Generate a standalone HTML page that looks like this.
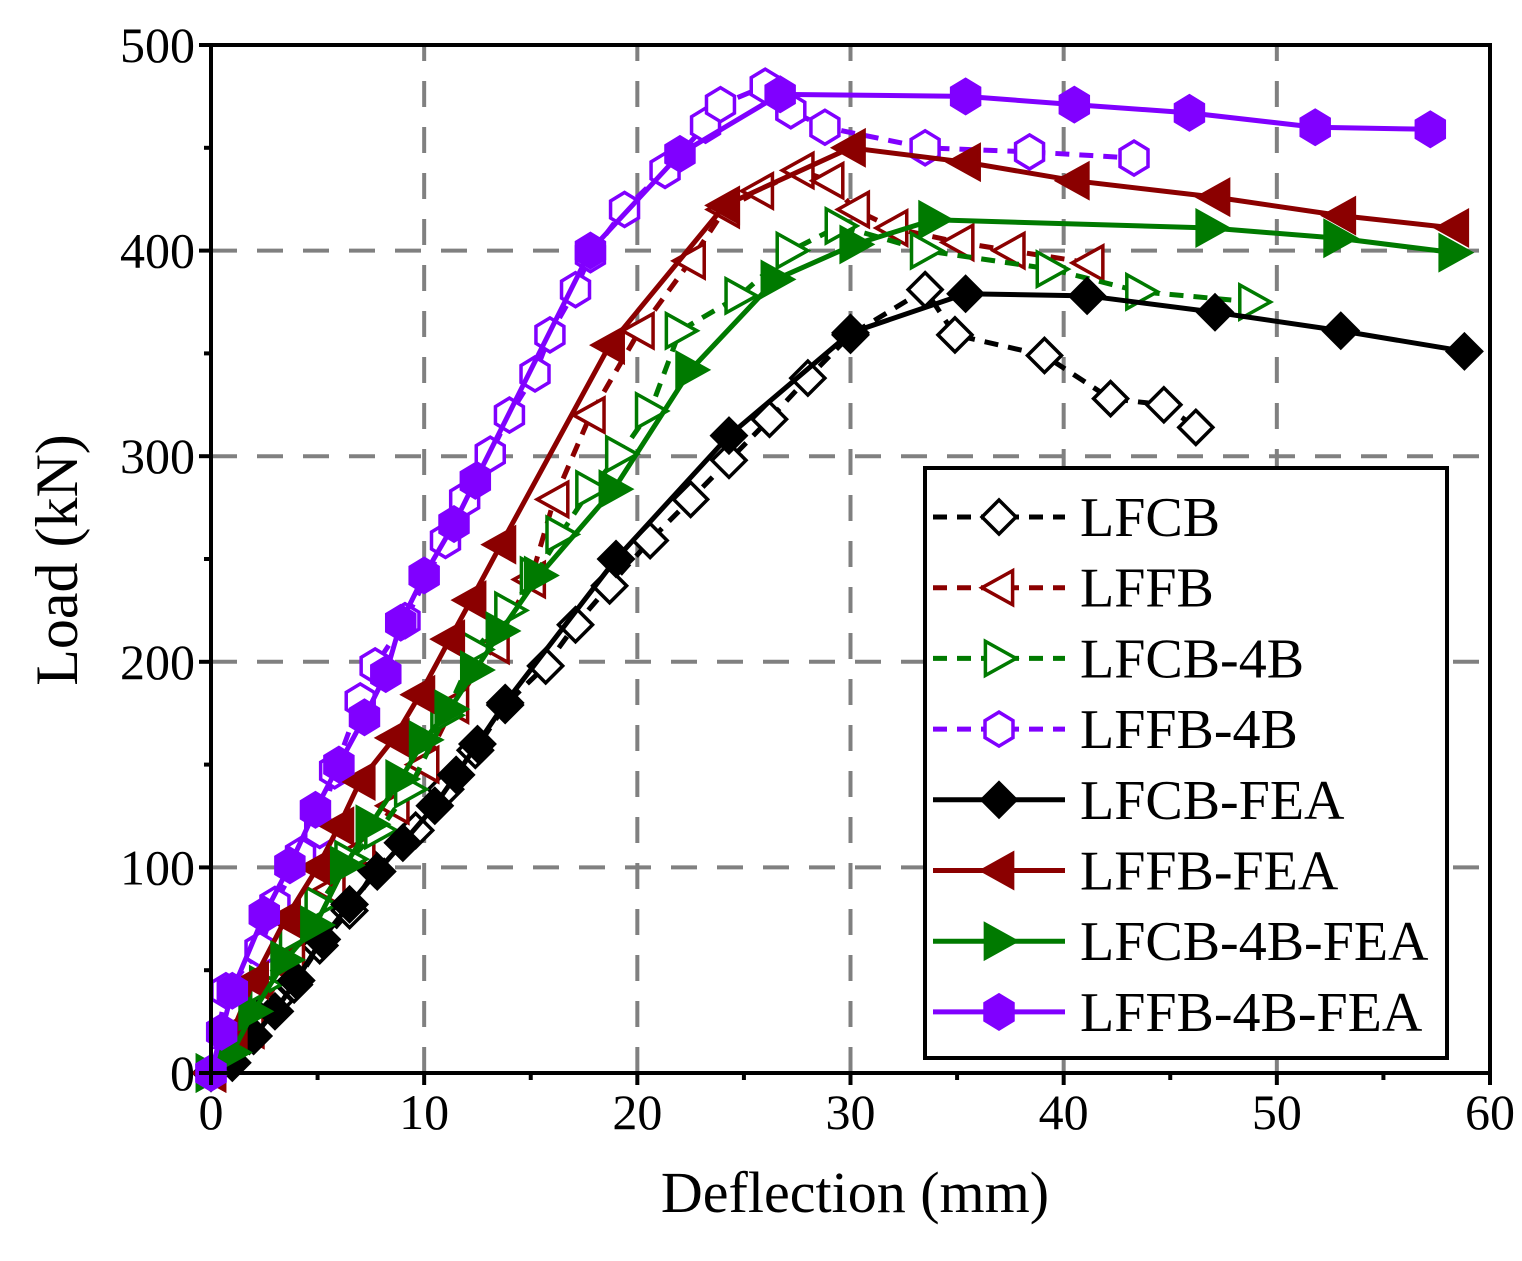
<!DOCTYPE html>
<html><head><meta charset="utf-8"><style>body{margin:0;background:#fff}svg{display:block}</style></head>
<body>
<svg id="chart" width="1522" height="1261" viewBox="0 0 1522 1261" xmlns="http://www.w3.org/2000/svg" font-family="'Liberation Serif', serif">
<g id="grid"></g>
<g id="series"></g>
<g id="axes"></g>
<g id="legend"></g>
</svg>
<script>
const xTicks=[0,10,20,30,40,50,60];
const yTicks=[0,100,200,300,400,500];
const names=["LFCB","LFFB","LFCB-4B","LFFB-4B","LFCB-FEA","LFFB-FEA","LFCB-4B-FEA","LFFB-4B-FEA"];
const colors=["#000","#8b0000","#007a00","#8000ff","#000","#8b0000","#007a00","#8000ff"];
const markers=["diamond","ltri","rtri","hex","diamond","ltri","rtri","hex"];
const dashed=[true,true,true,true,false,false,false,false];
const filled=[false,false,false,false,true,true,true,true];
const lfcbX=[0,1.8,3,3.9,5.1,6.5,7.7,9.6,11,12.4,13.8,15.7,17.1,18.7,20.6,22.5,24.3,26.2,28,30,33.5,34.9,39.1,42.2,44.7,46.2];
const lfcbY=[0,18,35,43,62,79,99,118,138,157,179,198,218,237,259,279,298,318,338,359,381,359,349,328,325,314];
const lffbX=[0,1.8,3.7,5.6,7,8.6,10,11.4,13.3,15,16.1,17.8,20.1,22.5,24.1,25.7,27.6,29,30.2,32,35.1,37.5,41.2];
const lffbY=[0,21,55,89,108,130,150,179,208,240,279,320,361,395,420,429,439,434,420,411,404,400,394];
const lfcb4bX=[0,1.4,2.5,3.9,5.1,6.5,7.9,9.3,11,12.4,14,15.2,16.4,17.8,19.2,20.6,22,24.8,27.2,29.5,33.5,39.4,43.6,48.9];
const lfcb4bY=[0,14,43,67,82,104,118,138,174,206,225,242,262,284,301,322,361,378,400,412,400,391,380,375];
const lffb4bX=[0,0.7,2.3,3,4.2,5.1,5.8,7,7.7,9.1,11,11.9,13.1,14,15.2,15.9,17.1,17.8,19.4,21.3,23.2,23.9,26,27.2,28.8,33.5,38.4,43.3];
const lffb4bY=[0,40,60,82,106,118,147,181,198,220,259,279,301,320,340,359,381,398,420,439,461,471,480,468,460,450,448,445];
const lfcbFeaX=[0,1,2,3,4,5.2,6.5,7.8,9,10.5,11.5,12.5,13.8,19,24.3,30,35.4,41.1,47.1,53,58.8];
const lfcbFeaY=[0,5,18,30,45,65,82,98,112,130,145,160,180,250,310,360,379,378,370,361,351];
const lffbFeaX=[0,1,2,3.5,5,6,7,8.6,9.8,11.2,12.2,13.6,18.7,24.1,30,35.4,40.5,47.1,53,58.3];
const lffbFeaY=[0,20,45,75,100,120,142,163,184,211,230,257,354,422,450,443,434,426,417,411];
const lfcb4bFeaX=[0,1,2,3.5,4.9,6.3,7.5,8.9,10,11.2,12.4,13.6,15.4,18.9,22.5,26.5,30.2,33.9,46.9,52.9,58.3];
const lfcb4bFeaY=[0,10,30,55,72,101,121,143,162,177,196,215,242,284,342,386,403,415,411,406,399];
const lffb4bFeaX=[0,0.5,1,2.5,3.7,4.9,6,7.2,8.2,8.9,10,11.4,12.4,17.8,22,26.7,35.4,40.5,45.9,51.8,57.2];
const lffb4bFeaY=[0,20,40,77,101,128,150,173,194,219,242,267,288,400,447,476,475,471,467,460,459];
const seriesX=[lfcbX,lffbX,lfcb4bX,lffb4bX,lfcbFeaX,lffbFeaX,lfcb4bFeaX,lffb4bFeaX];
const seriesY=[lfcbY,lffbY,lfcb4bY,lffb4bY,lfcbFeaY,lffbFeaY,lfcb4bFeaY,lffb4bFeaY];

const NS="http://www.w3.org/2000/svg";
const X0=211,X1=1490,Y0=1073,Y1=45;
const sx=v=>X0+(v-0)/(60-0)*(X1-X0);
const sy=v=>Y0-(v-0)/(500-0)*(Y0-Y1);
function mk(tag,attrs,parent){const e=document.createElementNS(NS,tag);for(const k in attrs)e.setAttribute(k,attrs[k]);parent.appendChild(e);return e;}
const grid=document.getElementById('grid'),ser=document.getElementById('series'),axes=document.getElementById('axes'),leg=document.getElementById('legend');
xTicks.forEach(t=>{if(t>0&&t<60){const l=mk('line',{x1:sx(t),x2:sx(t),y1:Y0,y2:Y1,stroke:'#808080','stroke-width':4,'stroke-dasharray':'26,20'},grid);

}});
yTicks.forEach(t=>{if(t>0&&t<500){const l=mk('line',{x1:X0,x2:X1,y1:sy(t),y2:sy(t),stroke:'#808080','stroke-width':4,'stroke-dasharray':'26,20'},grid);

}});
function marker(type,cx,cy,col,fill,parent){
  const r=17;let pts;
  if(type==='diamond')pts=[[0,-r],[r,0],[0,r],[-r,0]];
  else if(type==='ltri')pts=[[-r,0],[r*0.8,-r],[r*0.8,r]];
  else if(type==='rtri')pts=[[r,0],[-r*0.8,-r],[-r*0.8,r]];
  else {pts=[];for(let i=0;i<6;i++){const a=Math.PI/6+i*Math.PI/3;pts.push([r*Math.cos(a)*0.95,r*Math.sin(a)]);}}
  const p=mk('polygon',{points:pts.map(q=>(cx+q[0])+','+(cy+q[1])).join(' '),fill:fill?col:'#fff',stroke:col,'stroke-width':3.5},parent);
  return p;
}
for(let s=0;s<8;s++){
  const g=mk('g',{},ser);
  
  
  const d=seriesX[s].map((x,i)=>(i?'L':'M')+sx(x)+','+sy(seriesY[s][i])).join(' ');
  const pl=mk('path',{d:d,fill:'none',stroke:colors[s],'stroke-width':5,'stroke-dasharray':dashed[s]?'14,10':'none'},g);
  
  
  seriesX[s].forEach((x,i)=>{const m=marker(markers[s],sx(x),sy(seriesY[s][i]),colors[s],filled[s],g);
    
    });
}
const frame=mk('rect',{x:X0,y:Y1,width:X1-X0,height:Y0-Y1,fill:'none',stroke:'#000','stroke-width':4},axes);


for(let v=0;v<=60;v+=5){const major=v%10===0;const l=mk('line',{x1:sx(v),x2:sx(v),y1:Y0,y2:Y0+(major?12:7),stroke:'#000','stroke-width':4},axes);

}
for(let v=0;v<=500;v+=50){const major=v%100===0;const l=mk('line',{x1:X0,x2:X0-(major?12:7),y1:sy(v),y2:sy(v),stroke:'#000','stroke-width':4},axes);

}
xTicks.forEach(t=>{const e=mk('text',{x:sx(t),y:Y0+56,'text-anchor':'middle','font-size':50},axes);e.textContent=t;

});
yTicks.forEach(t=>{const e=mk('text',{x:X0-16,y:sy(t)+17,'text-anchor':'end','font-size':50},axes);e.textContent=t;

});
const xt=mk('text',{x:855,y:1212,'text-anchor':'middle','font-size':58},axes);xt.textContent='Deflection (mm)';


const yt=mk('text',{x:0,y:0,'text-anchor':'middle','font-size':60,transform:'translate(77,560) rotate(-90)'},axes);yt.textContent='Load (kN)';


const box=mk('rect',{x:925,y:468,width:522,height:590,fill:'#fff',stroke:'#000','stroke-width':4},leg);


for(let s=0;s<8;s++){
  const y=517+s*70.7;
  const g=mk('g',{},leg);
  
  
  mk('line',{x1:933,x2:1065,y1:y,y2:y,stroke:colors[s],'stroke-width':5,'stroke-dasharray':dashed[s]?'14,10':'none'},g);
  marker(markers[s],999,y,colors[s],filled[s],g);
  const t=mk('text',{x:1080,y:y+19,'font-size':56},g);t.textContent=names[s];
}
</script>
</body></html>
